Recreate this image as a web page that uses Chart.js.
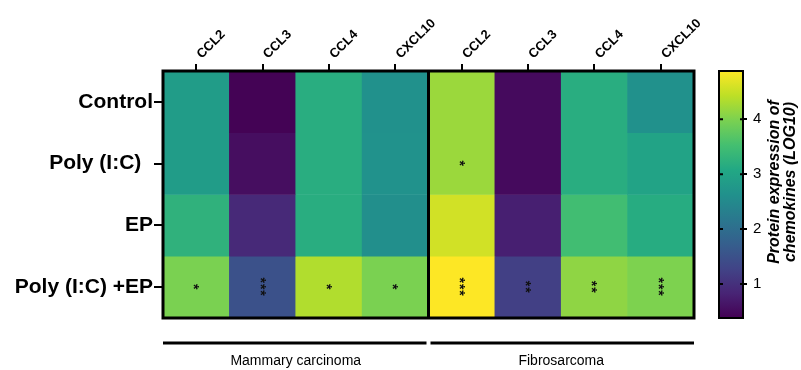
<!DOCTYPE html>
<html>
<head>
<meta charset="utf-8">
<script src="https://cdn.jsdelivr.net/npm/chart.js@4/dist/chart.umd.min.js"></script>
<style>
  html, body { margin: 0; padding: 0; background: #fff; }
  #wrap { position: relative; width: 801px; height: 370px; }
  #wrap canvas { position: absolute; left: 0; top: 0; }
</style>
</head>
<body>
<div id="wrap">
  <canvas id="heat" width="801" height="370"></canvas>
  <canvas id="bar" width="801" height="370"></canvas>
</div>
<script>
// ---- Data ----
const columns = ['CCL2', 'CCL3', 'CCL4', 'CXCL10', 'CCL2', 'CCL3', 'CCL4', 'CXCL10'];
const rows = ['Control', 'Poly (I:C)  ', 'EP', 'Poly (I:C) +EP'];
const groups = ['Mammary carcinoma', 'Fibrosarcoma'];

const controlVals = [2.85, 0.40, 3.17, 2.63, 4.20, 0.50, 3.17, 2.63];
const polyVals    = [2.85, 0.55, 3.17, 2.65, 4.20, 0.50, 3.17, 2.98];
const epVals      = [3.26, 0.90, 3.17, 2.60, 4.57, 0.77, 3.49, 3.15];
const polyEpVals  = [3.98, 1.49, 4.35, 3.98, 4.88, 1.22, 4.12, 4.00];

const controlStars = ['', '', '', '', '', '', '', ''];
const polyStars    = ['', '', '', '', '*', '', '', ''];
const epStars      = ['', '', '', '', '', '', '', ''];
const polyEpStars  = ['*', '***', '*', '*', '***', '**', '**', '***'];

const colorMin = 0.38, colorMax = 4.88;
const colorTicks = [1, 2, 3, 4];
const colorTitle = ['Protein expression of', 'chemokines (LOG10)'];

const rowValues = [controlVals, polyVals, epVals, polyEpVals];
const rowStars = [controlStars, polyStars, epStars, polyEpStars];

// ---- Viridis colormap ----
const viridis = ['#440154','#482475','#414487','#355f8d','#2a788e','#21918c','#22a884','#44bf70','#7ad151','#bddf26','#fde725'];
function hex2rgb(h){ return [parseInt(h.substr(1,2),16), parseInt(h.substr(3,2),16), parseInt(h.substr(5,2),16)]; }
function cmap(t){
  t = Math.max(0, Math.min(1, t));
  const p = t * (viridis.length - 1);
  const i = Math.min(viridis.length - 2, Math.floor(p));
  const f = p - i;
  const a = hex2rgb(viridis[i]), b = hex2rgb(viridis[i+1]);
  const c = a.map((v, k) => Math.round(v + (b[k] - v) * f));
  return 'rgb(' + c.join(',') + ')';
}
function colorFor(v){ return cmap((v - colorMin) / (colorMax - colorMin)); }

const FONT = '"Liberation Sans", Arial, sans-serif';

// ---- Heatmap ----
const heatDatasets = rows.map((r, ri) => ({
  label: r,
  data: rowValues[ri].map(() => [ri, ri + 1]),
  backgroundColor: rowValues[ri].map(colorFor),
  borderWidth: 0,
  barPercentage: 1,
  categoryPercentage: 1
}));

const heatPlugin = {
  id: 'heatExtras',
  afterDatasetsDraw(chart) {
    const ctx = chart.ctx;
    const a = chart.chartArea;
    const xs = chart.scales.x, ys = chart.scales.y;
    // stars
    ctx.save();
    ctx.fillStyle = '#111';
    ctx.font = 'bold 14px ' + FONT;
    ctx.textAlign = 'center';
    ctx.textBaseline = 'alphabetic';
    try { ctx.letterSpacing = '1px'; } catch (e) {}
    rowStars.forEach((arr, ri) => {
      arr.forEach((s, ci) => {
        if (!s) return;
        const m = ctx.measureText(s);
        const off = (m.actualBoundingBoxAscent - m.actualBoundingBoxDescent) / 2;
        const cx = xs.getPixelForValue(ci);
        const cy = ys.getPixelForValue(ri + 0.5);
        ctx.save();
        ctx.translate(cx, cy);
        ctx.rotate(Math.PI / 2);
        ctx.fillText(s, 0, off);
        ctx.restore();
      });
    });
    ctx.restore();
    // frame + divider
    const half = columns.length / 2;
    const divX = (xs.getPixelForValue(half - 1) + xs.getPixelForValue(half)) / 2;
    ctx.save();
    ctx.strokeStyle = '#000';
    ctx.lineWidth = 3;
    ctx.strokeRect(a.left, a.top, a.right - a.left, a.bottom - a.top);
    ctx.beginPath();
    ctx.moveTo(divX, a.top);
    ctx.lineTo(divX, a.bottom);
    ctx.stroke();
    // group brackets
    const by = a.bottom + 25;
    ctx.beginPath();
    ctx.moveTo(a.left, by); ctx.lineTo(divX - 2, by);
    ctx.moveTo(divX + 2, by); ctx.lineTo(a.right, by);
    ctx.stroke();
    ctx.fillStyle = '#000';
    ctx.font = '14px ' + FONT;
    ctx.textAlign = 'center';
    ctx.textBaseline = 'middle';
    ctx.fillText(groups[0], (a.left + divX) / 2, by + 18);
    ctx.fillText(groups[1], (divX + a.right) / 2, by + 18);
    ctx.restore();
  }
};

new Chart(document.getElementById('heat'), {
  type: 'bar',
  data: { labels: columns, datasets: heatDatasets },
  options: {
    responsive: false,
    animation: false,
    devicePixelRatio: 1,
    layout: { padding: { left: 0, top: 0, right: 107, bottom: 52 } },
    plugins: { legend: { display: false }, tooltip: { enabled: false } },
    scales: {
      x: {
        type: 'category',
        position: 'top',
        stacked: true,
        offset: true,
        grid: { offset: false, drawOnChartArea: false, drawTicks: true, tickLength: 7, color: '#000', lineWidth: 2 },
        border: { display: false },
        ticks: { color: '#000', font: { family: FONT, size: 13, weight: 'bold' }, minRotation: 45, maxRotation: 45, padding: 2, labelOffset: 14, autoSkip: false },
        afterFit(s) { s.height = 71; }
      },
      y: {
        type: 'linear',
        min: 0, max: rows.length,
        reverse: true,
        afterBuildTicks(s) { s.ticks = rows.map((_, i) => ({ value: i + 0.5 })); },
        grid: { drawOnChartArea: false, drawTicks: true, tickLength: 9, color: '#000', lineWidth: 2 },
        border: { display: false },
        ticks: {
          color: '#000', padding: 1,
          font: { family: FONT, size: 21, weight: 'bold' },
          callback: (v) => rows[Math.round(v - 0.5)]
        },
        afterFit(s) { s.width = 163; }
      }
    }
  },
  plugins: [heatPlugin]
});

// ---- Colorbar ----
const barPlugin = {
  id: 'barExtras',
  afterDatasetsDraw(chart) {
    const ctx = chart.ctx, a = chart.chartArea, ys = chart.scales.y;
    ctx.save();
    ctx.strokeStyle = '#000';
    ctx.lineWidth = 2;
    ctx.strokeRect(a.left, a.top, a.right - a.left, a.bottom - a.top);
    ctx.beginPath();
    colorTicks.forEach(t => {
      const y = ys.getPixelForValue(t);
      ctx.moveTo(a.left, y); ctx.lineTo(a.left + 4, y);
      ctx.moveTo(a.right - 3, y); ctx.lineTo(a.right, y);
    });
    ctx.stroke();
    // title
    ctx.fillStyle = '#000';
    ctx.font = 'italic bold 16px ' + FONT;
    ctx.textAlign = 'center';
    ctx.textBaseline = 'middle';
    ctx.translate(775, 182);
    ctx.rotate(-Math.PI / 2);
    ctx.fillText(colorTitle[0], 0, 0);
    ctx.fillText(colorTitle[1], 0, 16);
    ctx.restore();
  }
};

new Chart(document.getElementById('bar'), {
  type: 'bar',
  data: {
    labels: [''],
    datasets: [{
      data: [[colorMin, colorMax]],
      borderWidth: 0,
      barPercentage: 1,
      categoryPercentage: 1,
      backgroundColor(c) {
        const a = c.chart.chartArea;
        if (!a) return '#888';
        const g = c.chart.ctx.createLinearGradient(0, a.bottom, 0, a.top);
        viridis.forEach((col, i) => g.addColorStop(i / (viridis.length - 1), col));
        return g;
      }
    }]
  },
  options: {
    responsive: false,
    animation: false,
    devicePixelRatio: 1,
    layout: { padding: { left: 719, top: 71, right: 0, bottom: 52 } },
    plugins: { legend: { display: false }, tooltip: { enabled: false } },
    scales: {
      x: { display: false },
      y: {
        type: 'linear',
        position: 'right',
        min: colorMin, max: colorMax,
        afterBuildTicks(s) { s.ticks = colorTicks.map(v => ({ value: v })); },
        grid: { drawOnChartArea: false, drawTicks: true, tickLength: 4, color: '#000', lineWidth: 2 },
        border: { display: false },
        ticks: { color: '#000', padding: 6, font: { family: FONT, size: 15 } },
        afterFit(s) { s.width = 58; }
      }
    }
  },
  plugins: [barPlugin]
});
</script>
</body>
</html>
